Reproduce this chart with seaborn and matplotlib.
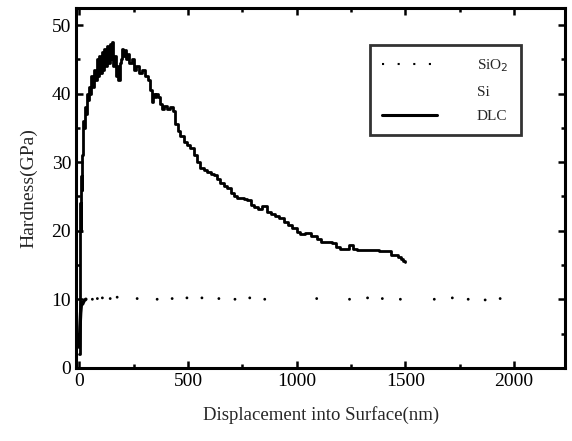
import numpy as np
import pandas as pd
import seaborn as sns
import matplotlib.pyplot as plt
from matplotlib.lines import Line2D
from matplotlib.ticker import MultipleLocator

# DLC hardness curve
dlc_x = [0, 2, 4, 6, 8, 10, 12, 14, 17, 20, 24, 28, 32, 36, 40, 46, 52, 58, 64, 70,
         76, 82, 88, 94, 100, 106, 112, 118, 124, 130, 136, 142, 148, 152, 158, 164, 170,
         176, 182, 188, 194, 200, 206, 212, 218, 226, 235, 245, 255, 266, 280, 295, 310,
         320, 330, 338, 344, 350, 358, 366, 376, 386, 396, 410, 424, 434, 446, 458, 472,
         488, 504, 518, 534, 550, 564, 580, 596, 612, 624, 640, 656, 672, 688, 704, 720,
         734, 750, 766, 780, 796, 812, 830, 853, 870, 890, 910, 931, 950, 970, 991, 1010,
         1023, 1050, 1083, 1100, 1124, 1150, 1174, 1190, 1206, 1230, 1252, 1270, 1284,
         1320, 1360, 1400, 1422, 1445, 1460, 1472, 1485, 1495, 1500]
dlc_h = [2, 8, 16, 24, 20, 28, 26, 31, 33, 36, 35, 38, 37, 40, 39, 41, 40, 42.5, 41, 43.5,
         42, 45, 42.5, 45.5, 43, 46, 43.5, 46.5, 44, 47, 44.5, 47.2, 45, 47.5, 44, 45.5, 42.5,
         44, 42, 44.5, 45, 46.5, 45.5, 46.3, 45, 45.8, 44.5, 45, 43.5, 44, 43, 43.5, 42.5,
         42, 40.5, 38.8, 40, 39.5, 40, 39.5, 38.5, 37.8, 38.2, 37.8, 38, 37.5, 35.5, 34.5, 33.8,
         33, 32.5, 32, 31, 30, 29.2, 28.8, 28.5, 28.3, 28.1, 27.5, 27, 26.5, 26.2, 25.5, 25,
         24.8, 24.8, 24.6, 24.5, 23.8, 23.4, 23.2, 23.6, 22.8, 22.4, 22.2, 21.8, 21.2, 20.8, 20.4, 19.8,
         19.5, 19.6, 19.3, 18.8, 18.3, 18.3, 18.2, 17.6, 17.3, 17.3, 17.9, 17.4, 17.2,
         17.2, 17.2, 17.1, 17.0, 16.4, 16.4, 16.2, 15.9, 15.6, 15.4]

# SiO2: short loading segment, then sparse dots near 10 GPa
sio2_start_x = [0, 3, 6, 10, 15, 22, 30]
sio2_start_h = [3, 6, 8, 9.5, 9.3, 9.8, 10]
sio2_x = [60, 83, 106, 142, 174, 266, 358, 427, 495, 564, 642, 716, 784, 853,
          1092, 1243, 1326, 1394, 1477, 1633, 1716, 1789, 1867, 1936]
sio2_h = [10, 10.1, 10.2, 10.1, 10.3, 10.1, 10.0, 10.1, 10.2, 10.2, 10.1, 10.0, 10.2, 10.0,
          10.1, 10.0, 10.2, 10.1, 10.0, 10.0, 10.2, 10.0, 9.9, 10.1]

sns.set_theme(style="ticks")
plt.rcParams['font.family'] = ['Liberation Serif', 'DejaVu Serif']

fig = plt.figure(figsize=(5.72, 4.41), dpi=100)
ax = fig.add_axes([0.133, 0.166, 0.855, 0.816])

dlc_df = pd.DataFrame({"x": dlc_x, "h": dlc_h})
sns.lineplot(data=dlc_df, x="x", y="h", ax=ax, color="black", linewidth=2.0,
             sort=False, estimator=None, drawstyle="steps-mid")
ax.plot(sio2_start_x, sio2_start_h, color="black", linewidth=2.5)
sns.scatterplot(x=sio2_x, y=sio2_h, ax=ax, color="black", s=4, edgecolor="none")

ax.set_xlim(-15, 2235)
ax.set_ylim(0, 52.5)
ax.xaxis.set_major_locator(MultipleLocator(500))
ax.xaxis.set_minor_locator(MultipleLocator(250))
ax.yaxis.set_major_locator(MultipleLocator(10))
ax.yaxis.set_minor_locator(MultipleLocator(5))
ax.tick_params(which="both", direction="in", top=True, right=True, width=1.8,
               labelsize=14, colors="black")
ax.tick_params(which="major", length=5)
ax.tick_params(which="minor", length=3)
for sp in ax.spines.values():
    sp.set_linewidth(2.2)
    sp.set_color("black")

ax.set_xlabel("Displacement into Surface(nm)", fontsize=13.5, labelpad=12)
ax.set_ylabel("Hardness(GPa)", fontsize=14, labelpad=10)

handles = [
    Line2D([], [], color="black", linestyle=(0, (1, 6.5)), linewidth=1.5),
    Line2D([], [], color="none", linestyle="none"),
    Line2D([], [], color="black", linewidth=2.2),
]
labels = ["SiO$_2$", "Si", "DLC"]
leg = ax.legend(handles, labels, loc="upper left", bbox_to_anchor=(0.585, 0.917),
                fontsize=11, handlelength=3.6, handletextpad=2.6, frameon=True,
                fancybox=False, borderpad=0.8, labelspacing=0.7)
leg.get_frame().set_edgecolor("black")
leg.get_frame().set_linewidth(2)

fig.savefig("out.png", dpi=100)
